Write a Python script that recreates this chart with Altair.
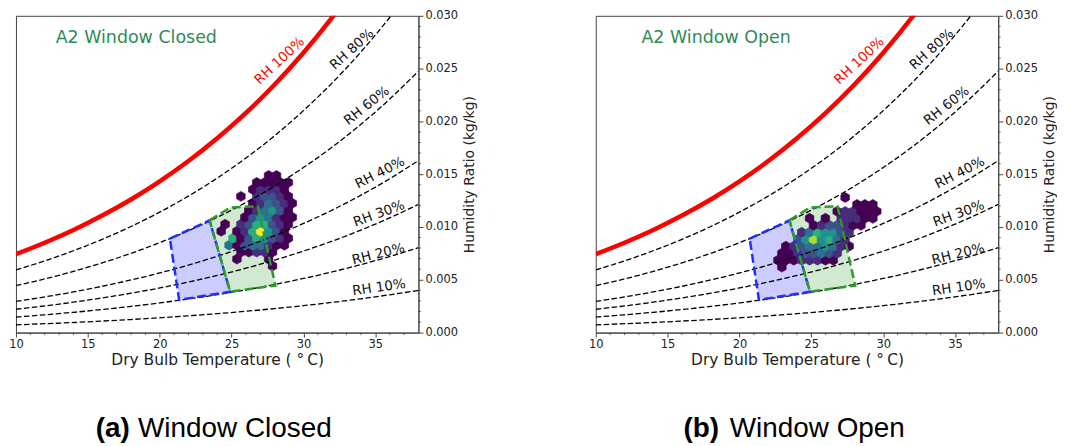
import altair as alt
import pandas as pd

# ---------------- data ----------------
T_CURVE = [10, 12, 14, 16, 18, 20, 22, 24, 26, 28, 30, 32, 34, 36, 38]
W_RH10 = [0.000736, 0.000841, 0.000958, 0.001091, 0.001238, 0.001403, 0.001587, 0.001792,
          0.002019, 0.002272, 0.002552, 0.002861, 0.003203, 0.003580, 0.003995]
W_RH20 = [0.001473, 0.001684, 0.001920, 0.002186, 0.002481, 0.002813, 0.003183, 0.003594,
          0.004052, 0.004560, 0.005125, 0.005748, 0.006439, 0.007201, 0.008041]
W_RH30 = [0.002212, 0.002530, 0.002884, 0.003284, 0.003729, 0.004229, 0.004786, 0.005408,
          0.006098, 0.006865, 0.007719, 0.008662, 0.009709, 0.010864, 0.012140]
W_RH40 = [0.002953, 0.003377, 0.003852, 0.004387, 0.004982, 0.005652, 0.006398, 0.007231,
          0.008157, 0.009187, 0.010335, 0.011603, 0.013013, 0.014570, 0.016293]
W_RH60 = [0.004440, 0.005080, 0.005796, 0.006603, 0.007504, 0.008516, 0.009646, 0.010910,
          0.012317, 0.013883, 0.015632, 0.017569, 0.019727, 0.022115, 0.024764]
W_RH80 = [0.005934, 0.006792, 0.007752, 0.008836, 0.010045, 0.011407, 0.012929, 0.014632,
          0.016531, 0.018650, 0.021019, 0.023648, 0.026582, 0.029840, 0.033462]
T_RH100 = [10, 12, 14, 16, 18, 20, 22, 24, 26, 28, 30, 32, 33]
W_RH100 = [0.007436, 0.008513, 0.009720, 0.011084, 0.012607, 0.014325, 0.016245, 0.018398,
           0.020802, 0.023488, 0.026497, 0.029844, 0.031662]

RH_LABEL_TEXT = ["RH 100%", "RH 80%", "RH 60%", "RH 40%", "RH 30%", "RH 20%", "RH 10%"]
RH_LABEL_T = [28.34, 33.37, 34.41, 35.33, 35.26, 35.21, 35.26]
RH_LABEL_W = [0.02573, 0.02682, 0.02148, 0.01512, 0.01125, 0.00742, 0.00427]
RH_LABEL_ANGLE = [317, 318, 322, 333, 340, 346, 352]
RH_LABEL_COLOR = ["#ff0000", "#111111", "#111111", "#111111", "#111111", "#111111", "#111111"]

# comfort zones (winter = blue, summer = green)
BLUE_T = [20.71, 23.47, 24.9, 21.35, 20.71]
BLUE_W = [0.0089, 0.01063, 0.00387, 0.0031, 0.0089]
GREEN_T = [23.47, 24.9, 26.82, 28.05, 24.9, 23.47]
GREEN_W = [0.01063, 0.01185, 0.01197, 0.00445, 0.00387, 0.01063]

X_TICKS = [10, 15, 20, 25, 30, 35]
X_MINOR = [11, 12, 13, 14, 16, 17, 18, 19, 21, 22, 23, 24, 26, 27, 28, 29, 31, 32, 33, 34, 36, 37]
Y_TICKS = [0.0, 0.005, 0.010, 0.015, 0.020, 0.025, 0.030]
Y_MINOR = [0.001, 0.002, 0.003, 0.004, 0.006, 0.007, 0.008, 0.009, 0.011, 0.012, 0.013, 0.014,
           0.016, 0.017, 0.018, 0.019, 0.021, 0.022, 0.023, 0.024, 0.026, 0.027, 0.028, 0.029]

# hexbin cells: grid centres and density rows (digit = density level, '.' = empty)
CLOSED_T_EVEN = [24.0, 24.55, 25.1, 25.65, 26.2, 26.75, 27.3, 27.85, 28.4, 28.95, 29.5]
CLOSED_T_ODD = [24.275, 24.825, 25.375, 25.925, 26.475, 27.025, 27.575, 28.125, 28.675, 29.225]
CLOSED_W_ROWS = [0.0063, 0.00696, 0.00762, 0.00828, 0.00894, 0.0096, 0.01026, 0.01092,
                 0.01158, 0.01224, 0.0129, 0.01356, 0.01422, 0.01488]
CLOSED_ROWS = [
    ".......1",
    "..1...1",
    "...11221",
    ".41344211",
    "..61365321",
    "1.1269531",
    ".1.2366321",
    "...1354211",
    "....124531",
    "....124321",
    "...1.23321",
    "....12221",
    ".....11111",
    "......11",
]

OPEN_T_EVEN = [22.4, 22.95, 23.5, 24.05, 24.6, 25.15, 25.7, 26.25, 26.8, 27.35, 27.9, 28.45, 29.0, 29.55]
OPEN_T_ODD = [22.675, 23.225, 23.775, 24.325, 24.875, 25.425, 25.975, 26.525, 27.075, 27.625,
              28.175, 28.725, 29.275]
OPEN_W_ROWS = [0.0062, 0.00686, 0.00752, 0.00818, 0.00884, 0.0095, 0.01016, 0.01082,
               0.01148, 0.01214, 0.0128]
OPEN_ROWS = [
    ".1",
    "11122211",
    ".11233432",
    ".123445421",
    "...3585642",
    "...2465532",
    ".....1233211",
    "....1.1.22211",
    "........122111",
    "..........111",
    ".........1",
]

# ---------------- tables ----------------
def cells(t_even, t_odd, w_rows, rows):
    out = []
    for j, row in enumerate(rows):
        cols = t_even if j % 2 == 0 else t_odd
        for k, ch in enumerate(row):
            if ch != ".":
                out.append({"T": cols[k], "W": w_rows[j], "n": int(ch)})
    return pd.DataFrame(out)

curves = []
for name, ws in [("10", W_RH10), ("20", W_RH20), ("30", W_RH30), ("40", W_RH40),
                 ("60", W_RH60), ("80", W_RH80)]:
    for t, w in zip(T_CURVE, ws):
        curves.append({"rh": name, "T": t, "W": w})
curves = pd.DataFrame(curves)
sat = pd.DataFrame({"T": T_RH100, "W": W_RH100})
labels = pd.DataFrame({"text": RH_LABEL_TEXT, "T": RH_LABEL_T, "W": RH_LABEL_W,
                       "angle": RH_LABEL_ANGLE, "color": RH_LABEL_COLOR})
blue = pd.DataFrame({"T": BLUE_T, "W": BLUE_W, "i": list(range(len(BLUE_T)))})
green = pd.DataFrame({"T": GREEN_T, "W": GREEN_W, "i": list(range(len(GREEN_T)))})
xminor = pd.DataFrame({"T": X_MINOR})
yminor = pd.DataFrame({"W": Y_MINOR})

W_PX, H_PX = 404, 318
xs = alt.Scale(domain=[10, 38], nice=False, zero=False)
ys = alt.Scale(domain=[0, 0.03], nice=False, zero=False)
HEX = "M0,-1L0.866,-0.5L0.866,0.5L0,1L-0.866,0.5L-0.866,-0.5Z"
vir = alt.Scale(scheme="viridis", domain=[1, 9])


def panel(cell_df, title, tag, text, tag_x, text_x):
    X = alt.X("T:Q", scale=xs, axis=alt.Axis(
        values=X_TICKS, format="d", title="Dry Bulb Temperature ( °\u2009C)",
        labelFlush=False, tickSize=4.5, labelPadding=1, titlePadding=3,
        labelFontSize=11.5, titleFontSize=15.5))
    Y = alt.Y("W:Q", scale=ys, axis=alt.Axis(
        orient="right", values=Y_TICKS, format=".3f", title="Humidity Ratio (kg/kg)",
        titleAngle=270, titleBaseline="top", labelFlush=False, tickSize=4.5, labelPadding=2,
        titlePadding=5, labelFontSize=11.5, titleFontSize=14))
    base = alt.Chart(cell_df)
    blue_fill = alt.Chart(blue).mark_line(fill="#0000ff", fillOpacity=0.2, strokeOpacity=0).encode(
        x=alt.X("T:Q", scale=xs), y=alt.Y("W:Q", scale=ys), order="i:Q")
    green_fill = alt.Chart(green).mark_line(fill="#008000", fillOpacity=0.18, strokeOpacity=0).encode(
        x=alt.X("T:Q", scale=xs), y=alt.Y("W:Q", scale=ys), order="i:Q")
    hexes = base.mark_point(shape=HEX, filled=True, size=100, opacity=1, strokeWidth=0.6).encode(
        x=X, y=Y,
        fill=alt.Fill("n:Q", scale=vir, legend=None),
        stroke=alt.Stroke("n:Q", scale=vir, legend=None))
    dashed = alt.Chart(curves).mark_line(color="black", strokeWidth=1.3, strokeDash=[5.5, 2.5],
                                         interpolate="monotone", clip=True).encode(
        x=alt.X("T:Q", scale=xs), y=alt.Y("W:Q", scale=ys), detail="rh:N")
    red = alt.Chart(sat).mark_line(color="#ff0000", strokeWidth=4.5, interpolate="monotone",
                                   clip=True).encode(
        x=alt.X("T:Q", scale=xs), y=alt.Y("W:Q", scale=ys))
    blue_edge = alt.Chart(blue).mark_line(color="#1f2fff", strokeWidth=2.5, strokeDash=[9, 4]).encode(
        x=alt.X("T:Q", scale=xs), y=alt.Y("W:Q", scale=ys), order="i:Q")
    green_edge = alt.Chart(green).mark_line(color="#2e9a2e", strokeWidth=2.5, strokeDash=[9, 4]).encode(
        x=alt.X("T:Q", scale=xs), y=alt.Y("W:Q", scale=ys), order="i:Q")
    rh_text = alt.Chart(labels).mark_text(fontSize=13.5, font="DejaVu Sans", align="center",
                                          baseline="middle").encode(
        x=alt.X("T:Q", scale=xs), y=alt.Y("W:Q", scale=ys), text="text:N",
        angle=alt.Angle("angle:Q", scale=None), color=alt.Color("color:N", scale=None))
    ttl = alt.Chart(pd.DataFrame({"T": [18.37], "W": [0.02792], "s": [title]})).mark_text(
        fontSize=17.5, font="DejaVu Sans", color="#2e8b57", align="center", baseline="middle").encode(
        x=alt.X("T:Q", scale=xs), y=alt.Y("W:Q", scale=ys), text="s:N")
    xm = alt.Chart(xminor).mark_rule(color="#444", strokeWidth=0.8).encode(
        x=alt.X("T:Q", scale=xs), y=alt.value(H_PX), y2=alt.value(H_PX + 2.5))
    ym = alt.Chart(yminor).mark_rule(color="#444", strokeWidth=0.8).encode(
        y=alt.Y("W:Q", scale=ys), x=alt.value(W_PX), x2=alt.value(W_PX + 2.5))
    cap_df = pd.DataFrame({"a": [tag], "b": [text]})
    cap_a = alt.Chart(cap_df).mark_text(font="Liberation Sans", fontSize=28, fontWeight="bold",
                                        align="left", baseline="alphabetic", color="black").encode(
        x=alt.value(tag_x), y=alt.value(423), text="a:N")
    cap_b = alt.Chart(cap_df).mark_text(font="Liberation Sans", fontSize=28,
                                        align="left", baseline="alphabetic", color="black").encode(
        x=alt.value(text_x), y=alt.value(423), text="b:N")
    return alt.layer(blue_fill, green_fill, hexes, dashed, red, blue_edge, green_edge,
                     rh_text, ttl, xm, ym, cap_a, cap_b).properties(width=W_PX, height=H_PX)


left = panel(cells(CLOSED_T_EVEN, CLOSED_T_ODD, CLOSED_W_ROWS, CLOSED_ROWS),
             "A2 Window Closed", "(a)", "Window Closed", 80, 122.5)
right = panel(cells(OPEN_T_EVEN, OPEN_T_ODD, OPEN_W_ROWS, OPEN_ROWS),
              "A2 Window Open", "(b)", "Window Open", 88, 134.5)

chart = alt.hconcat(left, right, spacing=111).properties(padding=0).configure(
    font="DejaVu Sans").configure_axis(
    grid=False, labelColor="#222", titleColor="#222", domainColor="#444", tickColor="#444",
    titleFontWeight="normal", labelFont="DejaVu Sans", titleFont="DejaVu Sans").configure_view(
    stroke="#444", strokeWidth=1)

chart.save("out.html", embed_options={"renderer": "svg", "actions": False})
